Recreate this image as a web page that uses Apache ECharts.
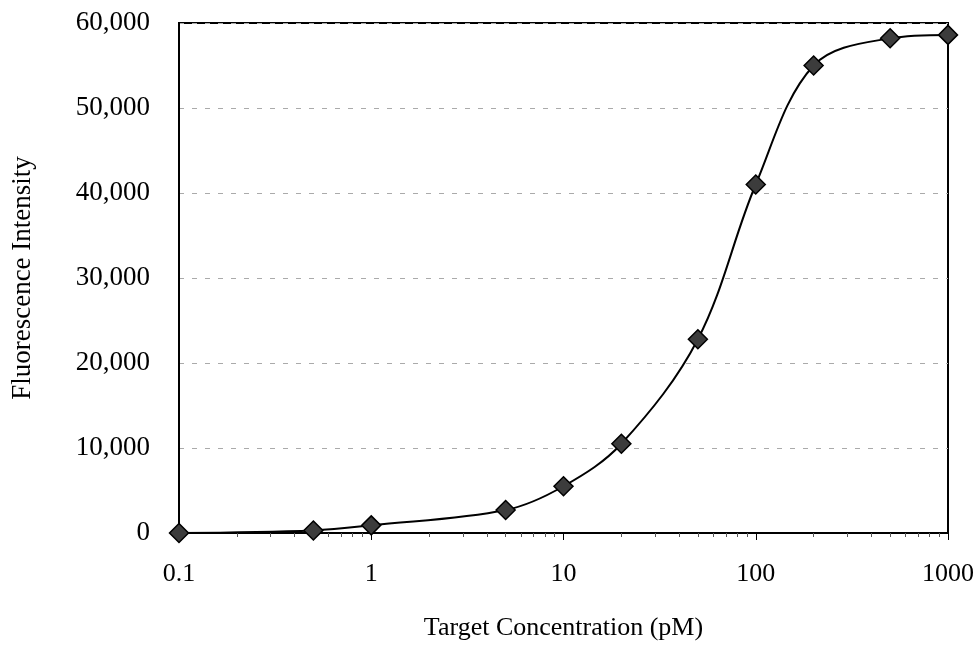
<!DOCTYPE html>
<html>
<head>
<meta charset="utf-8">
<script src="https://cdn.jsdelivr.net/npm/echarts@6/dist/echarts.min.js"></script>
<style>
  html, body { margin: 0; padding: 0; background: #fff; }
  #chart { width: 979px; height: 663px; }
</style>
</head>
<body>
<div id="chart"></div>
<script>
// 数据
var concentration = [0.1, 0.5, 1, 5, 10, 20, 50, 100, 200, 500, 1000];
var intensity = [0, 300, 900, 2700, 5500, 10500, 22800, 41000, 55000, 58200, 58600];
var xMinorTicks = [0.2, 0.3, 0.4, 0.5, 0.6, 0.7, 0.8, 0.9,
                   2, 3, 4, 5, 6, 7, 8, 9,
                   20, 30, 40, 50, 60, 70, 80, 90,
                   200, 300, 400, 500, 600, 700, 800, 900];

function initChart() {
    var myChart = echarts.init(document.getElementById('chart'));
    var font = 'Liberation Serif';

    var option = {
        animation: false,
        grid: {
            left: 179,
            right: 31,
            top: 23,
            bottom: 130,
            show: true,
            borderColor: '#000',
            borderWidth: 2
        },
        xAxis: [{
            type: 'log',
            logBase: 10,
            min: 0.1,
            max: 1000,
            name: 'Target Concentration (pM)',
            nameLocation: 'middle',
            nameGap: 82,
            nameTextStyle: { fontFamily: font, fontSize: 26, color: '#000' },
            axisLine: { lineStyle: { color: '#000', width: 2 } },
            axisTick: { show: true, length: 7, lineStyle: { color: '#000', width: 1 } },
            axisLabel: {
                fontFamily: font, fontSize: 26, color: '#000', margin: 28,
                formatter: function (v) { return String(v); }
            },
            splitLine: { show: false }
        }, {
            // 次刻度
            type: 'log',
            logBase: 10,
            min: 0.1,
            max: 1000,
            position: 'bottom',
            axisLine: { show: false },
            axisTick: { show: true, length: 4, customValues: xMinorTicks, lineStyle: { color: '#555', width: 1 } },
            axisLabel: { show: false },
            splitLine: { show: false }
        }],
        yAxis: {
            type: 'value',
            min: 0,
            max: 60000,
            interval: 10000,
            name: 'Fluorescence Intensity',
            nameLocation: 'middle',
            nameGap: 143,
            nameTextStyle: { fontFamily: font, fontSize: 27, color: '#000' },
            axisLine: { show: true, lineStyle: { color: '#000', width: 2 } },
            axisTick: { show: false },
            axisLabel: {
                fontFamily: font, fontSize: 27, color: '#000', margin: 29,
                formatter: function (v) { return v.toLocaleString('en-US'); }
            },
            splitLine: { lineStyle: { color: '#aaa', type: [5, 8], width: 1 } }
        },
        series: [{
            type: 'line',
            xAxisIndex: 0,
            data: concentration.map(function (c, i) { return [c, intensity[i]]; }),
            smooth: 0.35,
            symbol: 'diamond',
            symbolSize: 19,
            lineStyle: { color: '#000', width: 2 },
            itemStyle: { color: '#3c3c3c', borderColor: '#000', borderWidth: 1.5 }
        }]
    };

    myChart.setOption(option);
}

initChart();
</script>
</body>
</html>
